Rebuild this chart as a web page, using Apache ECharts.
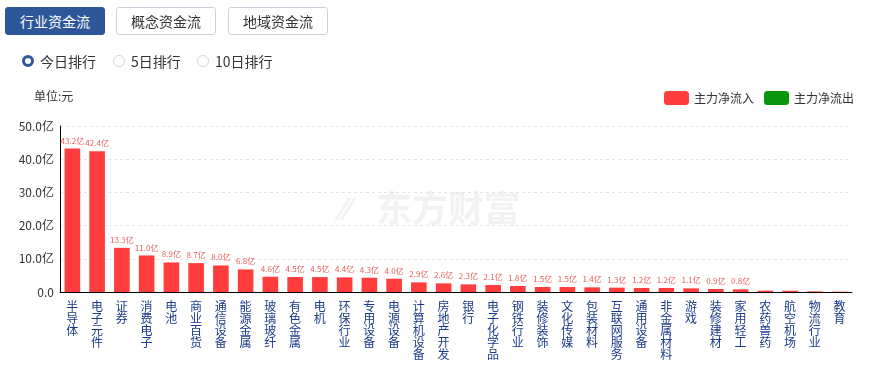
<!DOCTYPE html>
<html><head><meta charset="utf-8">
<script src="https://cdn.jsdelivr.net/npm/echarts@6/dist/echarts.min.js"></script>
<style>
html,body{margin:0;padding:0;background:#fff;font-family:"Noto Sans CJK SC","Microsoft YaHei",sans-serif;}
#wrap{position:relative;width:879px;height:372px;overflow:hidden;}
#chart{position:absolute;left:0;top:0;width:879px;height:372px;}
.btn{position:absolute;top:7px;height:26px;width:98px;border:1px solid #c9d3e0;border-radius:3px;font-size:14px;line-height:26px;text-align:center;color:#333;background:#fff;box-sizing:content-box;}
.btn.on{background:#2d5799;color:#fff;border-color:#2d5799;}
.rd{position:absolute;top:52px;font-size:14px;line-height:18px;color:#333;}
.rd i{position:absolute;left:0;top:3px;width:10px;height:10px;border:1px solid #cdd5e0;border-radius:50%;box-sizing:content-box;}
.rd.on i{width:6px;height:6px;border:3px solid #2d5799;}
.rd span{position:absolute;left:18px;top:0;white-space:nowrap;}
</style></head>
<body><div id="wrap">
<div id="chart"></div>
<div class="btn on" style="left:5px">行业资金流</div>
<div class="btn" style="left:116px">概念资金流</div>
<div class="btn" style="left:228px">地域资金流</div>
<div class="rd on" style="left:22px"><i></i><span>今日排行</span></div>
<div class="rd" style="left:113px"><i></i><span>5日排行</span></div>
<div class="rd" style="left:197px"><i></i><span>10日排行</span></div>
</div>
<script>
const categories = ['半导体','电子元件','证券','消费电子','电池','商业百货','通信设备','能源金属','玻璃玻纤','有色金属','电机','环保行业','专用设备','电源设备','计算机设备','房地产开发','银行','电子化学品','钢铁行业','装修装饰','文化传媒','包装材料','互联网服务','通用设备','非金属材料','游戏','装修建材','家用轻工','农药兽药','航空机场','物流行业','教育'];
const inflowValues = [43.2,42.4,13.3,11.0,8.9,8.7,8.0,6.8,4.6,4.5,4.5,4.4,4.3,4.0,2.9,2.6,2.3,2.1,1.8,1.5,1.5,1.4,1.3,1.2,1.2,1.1,0.9,0.8,0.4,0.4,0.2,0.1];
const outflowValues = [];
const yTicks = [0,10,20,30,40,50];

const chart = echarts.init(document.getElementById('chart'));
const FONT = '"Noto Sans CJK SC","Microsoft YaHei",sans-serif';
chart.setOption({
  animation:false,
  textStyle:{fontFamily:FONT},
  graphic:[
    {type:'text',left:34,top:90,style:{text:'单位:元',fontSize:12,fill:'#333',fontFamily:FONT}},
    {type:'text',left:376,top:190,z:-1,style:{text:'东方财富',fontSize:36,fontWeight:'bold',fill:'#f2f2f2',fontFamily:FONT}},
    {type:'text',left:340,top:192,z:-1,style:{text:'⁄⁄',fontSize:32,fontWeight:'bold',fill:'#f2f2f2',fontFamily:FONT}}
  ],
  legend:{
    right:20,top:86,itemWidth:25,itemHeight:14,itemGap:10,
    textStyle:{fontSize:12,color:'#333',fontFamily:FONT},
    data:['主力净流入','主力净流出']
  },
  grid:{left:60,right:27,top:126,bottom:80,containLabel:false},
  xAxis:{
    type:'category',data:categories,
    axisLine:{lineStyle:{color:'#000'}},
    axisTick:{show:false},
    axisLabel:{interval:0,fontSize:12,lineHeight:12,color:'#1b3a8c',margin:8,
      formatter:v=>v.split('').join('\n')}
  },
  yAxis:{
    type:'value',min:yTicks[0],max:yTicks[yTicks.length-1],interval:10,
    axisLine:{show:true,lineStyle:{color:'#000'}},
    axisTick:{show:false},
    axisLabel:{fontSize:12,color:'#333',margin:6,formatter:v=>v===0?'0.0':v.toFixed(1)+'亿'},
    splitLine:{lineStyle:{color:'#e4e4e4',type:[3,3]}}
  },
  series:[
    {name:'主力净流入',type:'bar',data:inflowValues,barWidth:'63%',barGap:'-100%',
      itemStyle:{color:'#ff3d3d'},
      label:{show:true,position:'top',distance:4,fontSize:8,color:'#e85c5c',
        formatter:p=>p.value>=0.8?p.value.toFixed(1)+'亿':''}},
    {name:'主力净流出',type:'bar',data:outflowValues,barWidth:'63%',barGap:'-100%',itemStyle:{color:'#08960f'}}
  ]
});
</script>
</body></html>
